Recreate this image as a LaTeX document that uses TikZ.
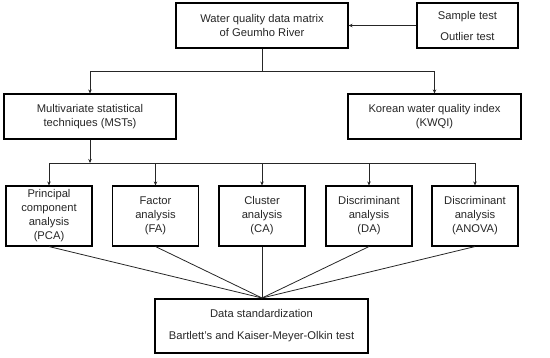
\documentclass[tikz,border=0pt]{standalone}
\usepackage{fontspec}
\setmainfont{Liberation Sans}
\usetikzlibrary{arrows.meta}
\begin{document}
\begin{tikzpicture}[x=1pt,y=-1pt,
  box/.style={draw=black,line width=1.1pt,align=center,inner sep=1pt,
    font=\fontsize{11.2}{14}\selectfont,text=black!85},
  conn/.style={draw=black!85,line width=0.8pt},
  arr/.style={conn,-{Stealth[length=4pt,width=3.5pt]}}]
\useasboundingbox (0,0) rectangle (550,357);
\node[box,minimum width=172pt,minimum height=45pt] (top) at (262,25.5) {Water quality data matrix\\of Geumho River};
\node[box,minimum width=101pt,minimum height=45pt] (sample) at (467.5,25.5) {Sample test\\[7pt]Outlier test};
\node[box,minimum width=172pt,minimum height=45pt] (mst) at (90,116.5) {Multivariate statistical\\techniques (MSTs)};
\node[box,minimum width=173pt,minimum height=45pt] (kwqi) at (434.5,116.5) {Korean water quality index\\(KWQI)};
\node[box,minimum width=86pt,minimum height=60pt] (pca) at (49,216) {Principal\\component\\analysis\\(PCA)};
\node[box,minimum width=86pt,minimum height=60pt] (fa) at (155.5,216) {Factor\\analysis\\(FA)};
\node[box,minimum width=86pt,minimum height=60pt] (ca) at (262,216) {Cluster\\analysis\\(CA)};
\node[box,minimum width=86pt,minimum height=60pt] (da) at (369,216) {Discriminant\\analysis\\(DA)};
\node[box,minimum width=86pt,minimum height=60pt] (anova) at (475,216) {Discriminant\\analysis\\(ANOVA)};
\node[box,minimum width=213pt,minimum height=54pt] (std) at (261.5,326) {Data standardization\\[8pt]Bartlett's and Kaiser-Meyer-Olkin test};
\coordinate (split1) at (262,71);
\coordinate (split2) at (90,163);
\coordinate (conv) at (262,298);
% top connections
\draw[arr] (sample.west) -- (top.east);
\draw[conn] (top.south) -- (split1);
\draw[arr] (split1) -| (mst.north);
\draw[arr] (split1) -| (kwqi.north);
% MST to methods
\draw[arr] (mst.south) -- (split2);
\draw[conn] (pca.north |- split2) -- (anova.north |- split2);
\foreach \n in {pca,fa,ca,da,anova}{
  \draw[arr] (\n.north |- split2) -- (\n.north);
  \draw[conn] (\n.south) -- (conv);
}
\end{tikzpicture}
\end{document}
